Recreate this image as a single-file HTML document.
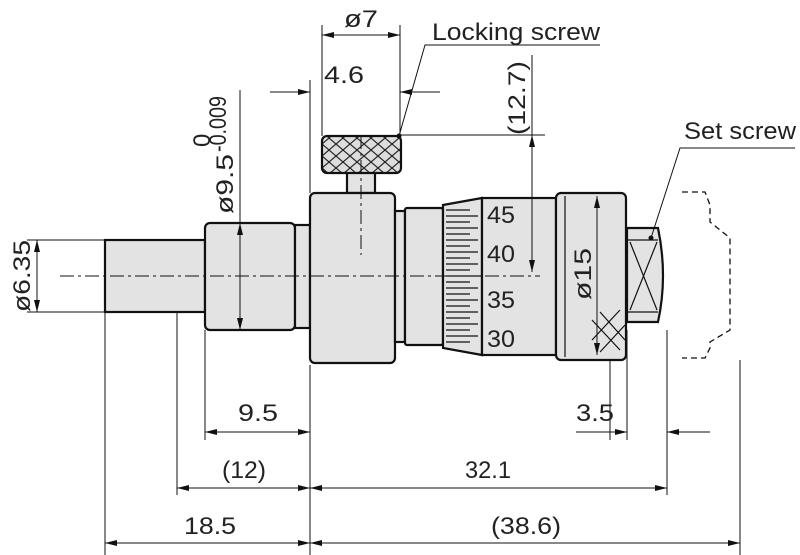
<!DOCTYPE html>
<html><head><meta charset="utf-8"><style>
html,body{margin:0;padding:0;background:#fff}
svg{display:block}
text{font-family:"Liberation Sans Narrow","Liberation Sans",sans-serif;font-size:24px;fill:#222}
</style></head><body>
<svg width="800" height="555" viewBox="0 0 800 555" xmlns="http://www.w3.org/2000/svg">
<defs>
<marker id="a" viewBox="0 0 12 6" refX="12" refY="3" markerWidth="12" markerHeight="6" orient="auto-start-reverse" markerUnits="userSpaceOnUse"><path d="M0,0L12,3L0,6z" fill="#111"/></marker>
<pattern id="kn" width="14" height="12" patternUnits="userSpaceOnUse"><rect width="14" height="12" fill="#ddd"/><path d="M0,0L14,12M14,0L0,12" stroke="#222" stroke-width="1.2"/></pattern>
</defs>
<g stroke="#111" fill="none" stroke-width="1">
<path d="M105,312V555M177,240V495M205,330V440M310,365V555M627,330V440M667,330V495M740,360V555M610,360V440"/>
<path d="M27,240H105M27,312H105M240,90V223M322,25V136M400,25V136M310,80V193M400,135H545M532,55V276"/>
</g>
<g stroke="#111" stroke-width="2.2" fill="#e3e3e3">
<rect x="105" y="240" width="100" height="72"/>
<rect x="205" y="223" width="90" height="107" rx="5"/>
<rect x="295" y="225" width="15" height="103"/>
<rect x="347" y="172" width="28" height="21"/>
<rect x="310" y="193" width="85" height="170" rx="5"/>
<rect x="395" y="211" width="10" height="131"/>
<rect x="405" y="208" width="38" height="137" rx="2"/>
<path d="M443,205L482,198V355L443,348Z"/>
<rect x="482" y="198" width="74" height="157"/>
<rect x="556" y="193" width="70" height="167" rx="5"/>
<path d="M627,228H658Q668,276 658,322H627Z"/>
<rect x="322" y="136" width="79" height="37" rx="5" fill="url(#kn)"/>
</g>
<g stroke="#111" stroke-width="1.2" fill="none">
<path d="M627,240H658M627,312H658M630,242L657,310M657,242L630,310"/>
<path d="M446,210H470M446,216H478M446,222H470M446,228H478M446,234H470M446,240H478M446,246H470M446,252H478M446,258H470M446,264H478M446,270H470M446,276H482M446,282H470M446,288H478M446,294H470M446,300H478M446,306H470M446,312H478M446,318H470M446,324H478M446,330H470M446,336H478M446,342H470"/>
<path d="M565,196V357"/>
<path d="M592,320L620,350M600,312L625,340M592,340L620,310M600,352L625,325"/>
</g>
<path d="M682,192H705L710,205V222L730,238V330L710,342V348L705,358H682" fill="none" stroke="#111" stroke-width="1.3" stroke-dasharray="6,4"/>
<g stroke="#111" stroke-width="1" stroke-dasharray="14,4,3,4" fill="none">
<path d="M60,276H540"/><path d="M361,135V255"/>
</g>
<g stroke="#111" stroke-width="1" fill="none" marker-start="url(#a)" marker-end="url(#a)">
<path d="M37,240V312"/><path d="M240,223V330"/><path d="M322,35H400"/>
<path d="M532,135V272"/><path d="M597,196V355"/>
<path d="M205,432H310"/><path d="M177,488H310"/><path d="M310,488H667"/>
<path d="M105,543H310"/><path d="M310,543H740"/>
</g>
<g stroke="#111" stroke-width="1" fill="none">
<path d="M270,92H310" marker-end="url(#a)"/><path d="M440,92H400" marker-end="url(#a)"/>
<path d="M576,432H627" marker-end="url(#a)"/><path d="M710,432H667" marker-end="url(#a)"/>
<path d="M399,136L425,45H600M651,238L680,148H795"/>
</g>
<circle cx="399" cy="136" r="2.5" fill="#111"/><circle cx="651" cy="238" r="2.5" fill="#111"/>
<text x="432" y="40" textLength="168" lengthAdjust="spacingAndGlyphs">Locking screw</text>
<text x="684" y="139" textLength="112" lengthAdjust="spacingAndGlyphs">Set screw</text>
<text x="344" y="27" textLength="34" lengthAdjust="spacingAndGlyphs">ø7</text>
<text x="324" y="83" textLength="40" lengthAdjust="spacingAndGlyphs">4.6</text>
<text x="487" y="223" font-size="19" textLength="28" lengthAdjust="spacingAndGlyphs">45</text>
<text x="487" y="262" font-size="19" textLength="28" lengthAdjust="spacingAndGlyphs">40</text>
<text x="487" y="308" font-size="19" textLength="28" lengthAdjust="spacingAndGlyphs">35</text>
<text x="487" y="347" font-size="19" textLength="28" lengthAdjust="spacingAndGlyphs">30</text>
<text transform="translate(30,312) rotate(-90)" textLength="72" lengthAdjust="spacingAndGlyphs">ø6.35</text>
<text transform="translate(233,214) rotate(-90)" textLength="60" lengthAdjust="spacingAndGlyphs">ø9.5</text>
<text transform="translate(210,147) rotate(-90)" font-size="15">0</text>
<text transform="translate(226,152) rotate(-90)" font-size="15" textLength="56" lengthAdjust="spacingAndGlyphs">-0.009</text>
<text transform="translate(525,135) rotate(-90)" textLength="74" lengthAdjust="spacingAndGlyphs">(12.7)</text>
<text transform="translate(591,300) rotate(-90)" textLength="52" lengthAdjust="spacingAndGlyphs">ø15</text>
<text x="238" y="421" textLength="40" lengthAdjust="spacingAndGlyphs">9.5</text>
<text x="576" y="421" textLength="38" lengthAdjust="spacingAndGlyphs">3.5</text>
<text x="222" y="478" textLength="44" lengthAdjust="spacingAndGlyphs">(12)</text>
<text x="465" y="478" textLength="46" lengthAdjust="spacingAndGlyphs">32.1</text>
<text x="184" y="534" textLength="52" lengthAdjust="spacingAndGlyphs">18.5</text>
<text x="491" y="534" textLength="70" lengthAdjust="spacingAndGlyphs">(38.6)</text>
</svg>
</body></html>
